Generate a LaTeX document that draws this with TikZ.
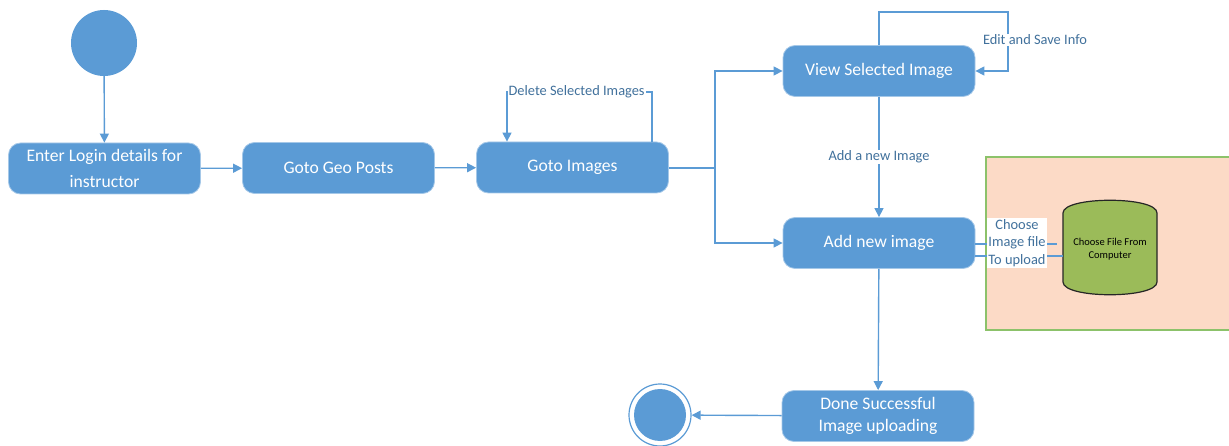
\documentclass[tikz,border=0pt]{standalone}
\usepackage{fontspec}
\setmainfont{Carlito}
\usetikzlibrary{arrows.meta}
\definecolor{actblue}{HTML}{5B9BD5}
\definecolor{lineblue}{HTML}{5B9BD5}
\definecolor{labblue}{HTML}{41719C}
\definecolor{peach}{HTML}{FCDAC6}
\definecolor{frame}{HTML}{8CC26A}
\definecolor{drum}{HTML}{9BBB59}
\tikzset{
  act/.style={rectangle, rounded corners=12pt, fill=actblue, draw=actblue!55!white, line width=0.8pt,
    minimum width=192pt, minimum height=51pt, text=white, align=center,
    font=\fontsize{17.6}{26}\selectfont, inner sep=0pt},
  flow/.style={draw=lineblue, line width=1.4pt, -{Triangle[length=9pt,width=9pt]}},
  plain/.style={draw=lineblue, line width=1.4pt},
  lab/.style={fill=white, text=labblue, font=\fontsize{14.4}{16}\selectfont, inner sep=1pt},
}
\begin{document}
\begin{tikzpicture}[x=1pt,y=-1pt]
\useasboundingbox (0,0) rectangle (1229,446);

% file selection area
\fill[peach] (986,157) rectangle (1240,330);
\draw[frame, line width=1.2pt] (1240,157) -- (986,157) -- (986,330) -- (1240,330);

% initial and final states
\node[circle, fill=actblue, minimum size=66pt, inner sep=0pt] (start) at (104,43) {};
\node[circle, draw=actblue, line width=1.2pt, minimum size=62pt, inner sep=0pt] (stop) at (660,415) {};
\fill[actblue] (stop.center) circle (26pt);

% activities
\node[act] (login) at (104.5,168.5) {Enter Login details for\\instructor};
\node[act] (geo)   at (338.5,168) {Goto Geo Posts};
\node[act] (img)   at (572.5,167.5) {Goto Images};
\node[act] (view)  at (879,71) {View Selected Image};
\node[act] (add)   at (879,243) {Add new image};
\node[act, font=\fontsize{17.6}{22.5}\selectfont] (done) at (878,416) {Done Successful\\Image uploading};

% storage drum
\filldraw[fill=drum, draw=black!85, line width=1.2pt]
  (1063,213) .. controls (1063,196) and (1157,196) .. (1157,213)
  -- (1157,282) .. controls (1157,299) and (1063,299) .. (1063,282) -- cycle;
\node[minimum width=94pt, minimum height=95pt, align=center, inner sep=0pt,
  font=\fontsize{10.5}{12.5}\selectfont] (file) at (1110,249) {Choose File From\\Computer};

% main flow
\draw[flow] (start) -- (login);
\draw[flow] (login) -- (geo);
\draw[flow] (geo) -- (img);
\coordinate (fork) at (715,168);
\draw[plain] (img.east |- fork) -- (fork);
\draw[flow] (fork) |- (view);
\draw[flow] (fork) |- (add);
\draw[flow] (view) -- node[lab] {Add a new Image} (add);
\draw[flow] (add) -- (done);
\draw[flow] (done) -- (stop);

% self loops
\coordinate (dl) at (507,92);
\coordinate (dr) at (652,92);
\draw[flow] (img.north -| dr) -- (dr) -- node[lab, pos=0.52] {Delete Selected Images} (dl) -- (img.north -| dl);
\coordinate (el) at (879,12);
\coordinate (er) at (1008,12);
\draw[flow] (view.north) -- (el) -- (er) -- (er |- view) -- (view.east);
\node[lab] (editlab) at (1035,40) {Edit and Save Info};

% link to the drum
\draw[plain] (add.east |- 0,244) -- (1057,244);
\draw[plain] (add.east |- 0,256) -- (file.west |- 0,256);
\node[fill=white, text=labblue, align=center, inner sep=1pt,
  font=\fontsize{14.4}{17.5}\selectfont] (choose) at (1017,243) {Choose\\Image file\\To upload};
\end{tikzpicture}
\end{document}
